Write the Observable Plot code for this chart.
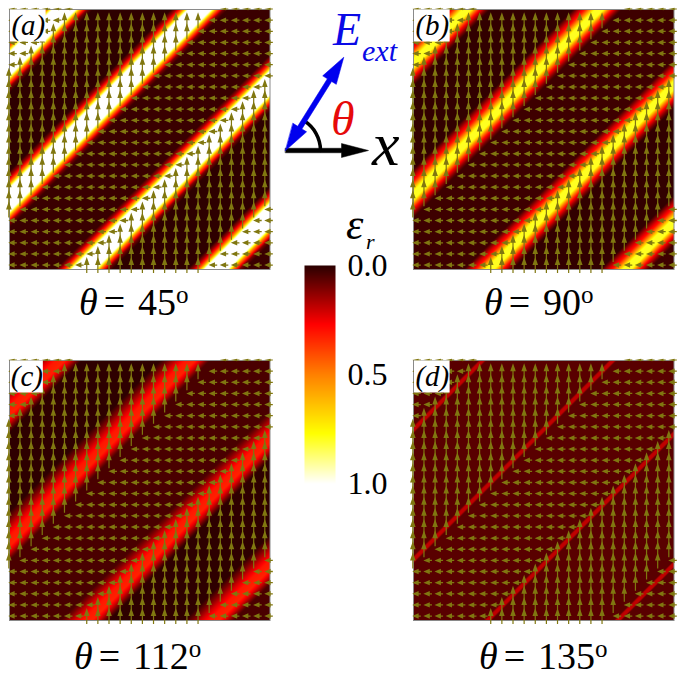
<!DOCTYPE html>
<html>
<head>
<meta charset="utf-8">
<script src="https://cdn.jsdelivr.net/npm/d3@7"></script>
<script src="https://cdn.jsdelivr.net/npm/@observablehq/plot@0.6"></script>
<style>
  html, body { margin: 0; padding: 0; background: #fff; }
  #page { position: relative; width: 685px; height: 676px; overflow: hidden; font-family: "Liberation Serif", serif; color: #000; }
  #page > div, #page > svg { position: absolute; }
  .t { position: absolute; white-space: nowrap; line-height: 1; }
  .eq { margin-left: 6px; }
  .num { margin-left: 13px; }
  sup { font-size: 0.66em; vertical-align: baseline; position: relative; top: -0.48em; }
  svg g[aria-label="vector"] { filter: blur(0.4px); }
</style>
</head>
<body>
<div id="page"></div>
<script>
// colour map of the order parameter
const colorStops = [0, 0.27, 0.5, 0.77, 1];
const colorRamp = ["#2a0000", "#ff0000", "#ff8000", "#ffff00", "#ffffff"];
const barTickValues = [0, 0.5, 1];
const barTickLabels = ["0.0", "0.5", "1.0"];

// panels
const panelNames = ["(a)", "(b)", "(c)", "(d)"];
const panelAngles = ["45", "90", "112", "135"];
// stripe centres along x+y, in units of one arrow-grid cell
const stripesA = [5.0, 17.2, 30.1, 42.0];
const stripesB = [4.9, 16.8, 30.3, 42.6];
const stripesC = [4.7, 16.4, 30.5, 41.9];
const stripesD = [6.3, 18.0, 30.1, 41.8];
// cross-section of one stripe: distance from centre, order parameter
const crossA = [-2.6, -2.1, -1.8, -1.45, -1.25, -1.05, 1.05, 1.25, 1.45, 1.8, 2.1, 2.6];
const orderA = [0, 0.15, 0.3, 0.55, 0.8, 1, 1, 0.8, 0.55, 0.3, 0.1, 0];
const crossB = [-2.4, -1.7, -1.3, -0.9, -0.4, 0.4, 0.8, 1.2, 1.7, 2.1];
const orderB = [0, 0.2, 0.3, 0.5, 0.8, 0.8, 0.5, 0.27, 0.1, 0];
const crossC = [-2.8, -2.0, -1.2, -0.5, 0.4, 1.0, 1.5, 1.9];
const orderC = [0, 0.1, 0.22, 0.31, 0.33, 0.2, 0.08, 0];
const crossD = [-0.4, -0.2, 0.2, 0.4];
const orderD = [0, 0.19, 0.19, 0];
// domain level: [vertical arrows, horizontal arrows]
const levelA = [0.005, 0.02];
const levelB = [0.01, 0.025];
const levelC = [0.005, 0.04];
const levelD = [0.06, 0.06];

// arrow grid
const gridCols = d3.range(24);
const gridRows = d3.range(24);
// the diagonals x+y on which the arrows point up
const upBandFirst = [6, 30];
const upBandLast = [18, 40];

const arrowColor = "#807710";
const cell = 11.13;

function polyShape(headLen, headWidth, stemWidth) {
  return {
    draw(ctx, l) {
      ctx.moveTo(-stemWidth / 2, 0);
      ctx.lineTo(-stemWidth / 2, -l + headLen);
      ctx.lineTo(-headWidth / 2, -l + headLen);
      ctx.lineTo(0, -l);
      ctx.lineTo(headWidth / 2, -l + headLen);
      ctx.lineTo(stemWidth / 2, -l + headLen);
      ctx.lineTo(stemWidth / 2, 0);
      ctx.closePath();
    }
  };
}
function doubleShape(headLen, headWidth, stemWidth) {
  return {
    draw(ctx, l) {
      ctx.moveTo(0, 0);
      ctx.lineTo(headWidth / 2, -headLen);
      ctx.lineTo(stemWidth / 2, -headLen);
      ctx.lineTo(stemWidth / 2, -l + headLen);
      ctx.lineTo(headWidth / 2, -l + headLen);
      ctx.lineTo(0, -l);
      ctx.lineTo(-headWidth / 2, -l + headLen);
      ctx.lineTo(-stemWidth / 2, -l + headLen);
      ctx.lineTo(-stemWidth / 2, -headLen);
      ctx.lineTo(-headWidth / 2, -headLen);
      ctx.closePath();
    }
  };
}

const isUp = (s) => upBandFirst.some((a, i) => s >= a && s <= upBandLast[i]);
const cells = gridRows.flatMap((r) => gridCols.map((c) => ({c, r, s: c + r})));
const upCells = cells.filter((d) => isUp(d.s) && d.r > 0);
const leftCells = cells.filter((d) => !isUp(d.s) && d.r > 0);
const topCells = cells.filter((d) => !isUp(d.s) && d.r === 0);

const colorScale = {type: "linear", domain: colorStops, range: colorRamp, clamp: true};

function panel(name, stripes, cross, order, level, boxW) {
  const profile = d3.scaleLinear(cross, order).clamp(true);
  const field = (x, y) => {
    const s = x + y;
    const i = d3.bisect(stripes, s);
    const base = level[(i % 2 === 1) ? 0 : 1];
    const nearest = d3.min(stripes, (c) => Math.abs(c - s));
    const hit = stripes.find((c) => Math.abs(c - s) === nearest);
    return Math.max(base, profile(s - hit));
  };
  const W = 260.5 / cell, H = 260 / cell;
  return Plot.plot({
    width: 282, height: 276,
    marginLeft: 9, marginRight: 12.5, marginTop: 9, marginBottom: 7,
    x: {axis: null, domain: [0.06, 0.06 + W]},
    y: {axis: null, domain: [0.04 + H, 0.04]},
    color: colorScale,
    style: {background: "transparent", overflow: "visible"},
    marks: [
      Plot.raster({fill: field, x1: 0.06, x2: 0.06 + W, y1: 0.04, y2: 0.04 + H, imageRendering: "auto"}),
      Plot.frame({stroke: "#8a8a8a", strokeWidth: 1}),
      Plot.vector(upCells, {x: "c", y: "r", dy: 8, rotate: 0, length: 16, anchor: "start",
        shape: polyShape(8, 5.6, 1.2), fill: arrowColor, stroke: "none"}),
      Plot.vector(leftCells, {x: "c", y: "r", dx: 8, rotate: -90, length: 8.6, anchor: "start",
        shape: polyShape(6.4, 5.4, 1.3), fill: arrowColor, stroke: "none"}),
      Plot.vector(topCells, {x: "c", y: "r", dx: 8, rotate: -90, length: 8.6, anchor: "start",
        shape: polyShape(6.4, 2.6, 1), fill: arrowColor, stroke: "none"}),
      Plot.rect([0], {x1: 0.15, x2: 0.15 + boxW, y1: 0.08, y2: 2.96, fill: "#fff"}),
      Plot.text([name], {x: 0.15 + boxW / 2, y: 1.5, text: (d) => d, fontFamily: "Liberation Serif", fontStyle: "italic",
        fontSize: 29, fill: "#000", textAnchor: "middle", lineAnchor: "middle"})
    ]
  });
}

const page = document.getElementById("page");
function place(node, left, top) {
  node.style.left = left + "px";
  node.style.top = top + "px";
  page.appendChild(node);
}
function label(html, left, baseline, size, color) {
  const el = document.createElement("div");
  el.className = "t";
  el.innerHTML = html;
  el.style.fontSize = size + "px";
  el.style.left = left + "px";
  // Liberation Serif ascent within a line-height:1 box is about 0.78em
  el.style.top = (baseline - 0.78 * size) + "px";
  if (color) el.style.color = color;
  page.appendChild(el);
}

place(panel(panelNames[0], stripesA, crossA, orderA, levelA, 3.2), 0, 0);
place(panel(panelNames[1], stripesB, crossB, orderB, levelB, 3.2), 403.5, 0);
place(panel(panelNames[2], stripesC, crossC, orderC, levelC, 2.95), 0, 351);
place(panel(panelNames[3], stripesD, crossD, orderD, levelD, 3.2), 403.5, 351);

// colour bar
place(Plot.plot({
  width: 96, height: 250, marginLeft: 0, marginRight: 65, marginTop: 10, marginBottom: 22,
  x: {axis: null, domain: [0, 1]},
  y: {axis: null, domain: [1, 0]},
  color: colorScale,
  style: {background: "transparent", overflow: "visible"},
  marks: [
    Plot.raster({fill: (x, y) => y, x1: 0, x2: 1, y1: 0, y2: 1}),
    Plot.text(barTickValues, {x: 1, y: (d) => d, text: (d, i) => barTickLabels[i], dx: 12, fontSize: 32,
      fontFamily: "Liberation Serif", fill: "#000", textAnchor: "start", lineAnchor: "middle"})
  ]
}), 304, 255);

// schematic: field direction against x
const fieldAngle = 58;
const arcRadius = 35;
const arcEnd = [arcRadius * Math.cos(fieldAngle * Math.PI / 180), arcRadius * Math.sin(fieldAngle * Math.PI / 180)];
place(Plot.plot({
  width: 130, height: 130, margin: 0,
  x: {axis: null, domain: [-15, 115]},
  y: {axis: null, domain: [-20, 110]},
  style: {background: "transparent", overflow: "visible"},
  marks: [
    Plot.arrow([0], {x1: arcRadius, y1: 0, x2: arcEnd[0], y2: arcEnd[1], bend: -fieldAngle / 2, headLength: 0, stroke: "#000", strokeWidth: 3.5}),
    Plot.vector([0], {x: 0, y: 0, rotate: 90, length: 83, anchor: "start", shape: polyShape(27, 14, 4.5), fill: "#000", stroke: "#000", strokeWidth: 0.5}),
    Plot.vector([0], {x: 0, y: 0, rotate: 90 - fieldAngle, length: 110, anchor: "start", shape: doubleShape(27, 16, 5), fill: "#0000ee", stroke: "#0000ee", strokeWidth: 0.5})
  ]
}), 270, 40);

label("<i>E</i>", 333, 43, 46, "#0a0ae6");
label("<i>ext</i>", 362, 59, 30, "#0a0ae6");
label("<i>θ</i>", 331, 132, 48, "#e60a0a");
label("<i>x</i>", 372, 161, 62);
label("<i>ε</i>", 346, 237, 44);
label("<i>r</i>", 366, 248, 22);

const title = (a) => `<i>θ</i><span class="eq">=</span><span class="num">${a}</span><sup>o</sup>`;
label(title(panelAngles[0]), 79, 313, 38);
label(title(panelAngles[1]), 484, 313, 38);
label(title(panelAngles[2]), 74, 667, 38);
label(title(panelAngles[3]), 479, 667, 38);
</script>
</body>
</html>
